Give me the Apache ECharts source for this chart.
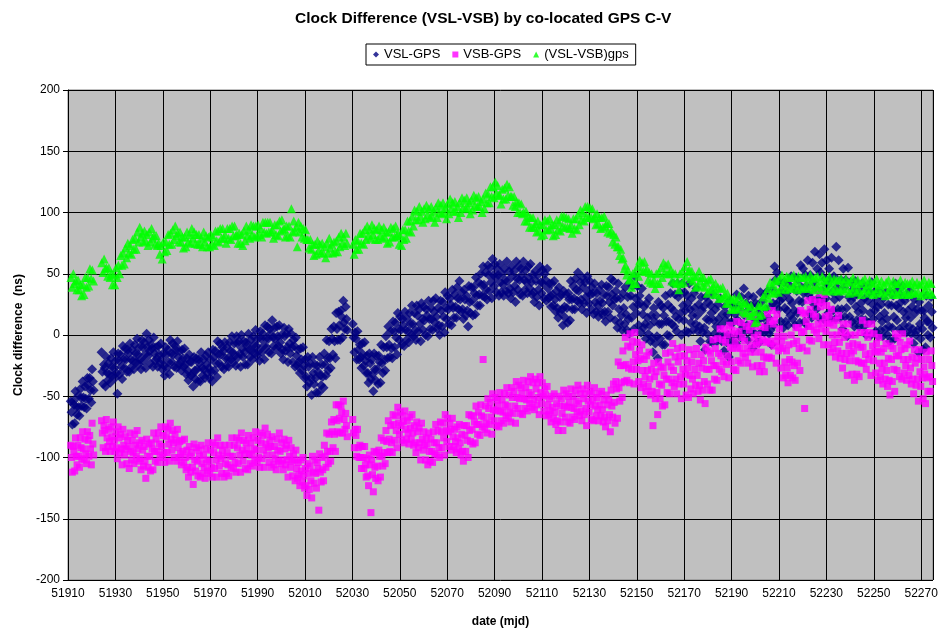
<!DOCTYPE html>
<html>
<head>
<meta charset="utf-8">
<title>Clock Difference (VSL-VSB) by co-located GPS C-V</title>
<script src="https://cdn.jsdelivr.net/npm/echarts@6/dist/echarts.min.js"></script>
<style>
  html, body { margin: 0; padding: 0; background: #fff; }
  #container { width: 943px; height: 634px; }
</style>
</head>
<body>
<div id="container"></div>
<script>
// MJD days that carry data (gaps around 51921-51923 and 52028-52029)
var dayRuns = [[51911, 51920], [51924, 52027], [52030, 52274]];

// VSL-GPS, three readings per day (ns)
var vslGps = [
  // 51911
  -54,-63,-73, -54,-57,-72, -46,-59,-65, -50,-59,-66, -44,-51,-58, -38,-51,-59, -42,-52,-60, -35,-41,-52, -35,-45,-55, -28,-38,-45,
  // 51924
  -14,-30,-40, -24,-27,-42, -18,-31,-37, -23,-32,-39, -19,-26,-33, -14,-27,-35, -21,-31,-48, -15,-21,-32, -16,-26,-36, -9,-20,-27,
  -11,-20,-30, -12,-15,-30, -7,-20,-26, -12,-21,-28, -8,-15,-22, -3,-16,-24, -10,-20,-28, -4,-10,-21, -6,-16,-27, 1,-10,-17,
  -4,-13,-23, -8,-11,-26, -2,-15,-21, -10,-19,-26, -9,-16,-23, -7,-20,-28, -15,-25,-33, -10,-16,-27, -12,-22,-32, -4,-15,-22,
  -7,-16,-26, -9,-12,-27, -5,-18,-24, -13,-22,-29, -12,-19,-26, -11,-24,-32, -19,-29,-37, -16,-22,-33, -22,-32,-42, -18,-29,-36,
  -19,-28,-38, -20,-23,-38, -14,-27,-33, -20,-28,-35, -17,-24,-31, -14,-27,-35, -20,-30,-38, -12,-18,-29, -13,-23,-34, -5,-16,-23,
  -7,-16,-26, -10,-13,-28, -6,-19,-25, -10,-19,-26, -6,-13,-20, -1,-14,-22, -7,-17,-25, -1,-7,-18, -5,-15,-26, 0,-11,-18,
  -5,-14,-24, -6,-9,-24, 1,-12,-18, -4,-13,-20, -1,-8,-15, 4,-9,-17, -3,-13,-21, 3,-3,-14, 1,-9,-20, 8,-3,-10,
  7,-3,-14, 5,1,-15, 12,-2,-9, 6,-3,-11, 7,-1,-9, 8,-6,-15, 0,-12,-20, 6,-1,-13, 1,-10,-22, 5,-7,-15,
  1,-10,-22, -4,-9,-26, -2,-17,-25, -12,-22,-31, -11,-20,-29, -10,-25,-35, -20,-34,-42, -18,-26,-39, -23,-35,-49, -18,-31,-40,
  -24,-35,-47, -25,-30,-47, -18,-33,-41, -24,-34,-43, -15,-24,-33, -4,-19,-29, -5,-19,-27, 5,-3,-16, 7,-5,-19, 18,5,-4,
  19,8,-4, 20,15,-2, 28,10,5, 23,13,4,
  // 52030
  9,-2,-14, 2,-3,-20, 3,-12,-20, -8,-18,-27, -7,-16,-25, -6,-21,-31, -17,-31,-39, -15,-23,-36, -20,-32,-46, -15,-28,-37,
  -17,-28,-40, -17,-22,-39, -8,-23,-31, -10,-20,-29, -1,-10,-19, 7,-8,-18, 3,-11,-19, 11,3,-10, 10,-2,-16, 18,5,-4,
  15,4,-8, 13,8,-9, 19,4,-4, 13,3,-6, 18,9,0, 24,9,-1, 18,4,-4, 24,16,3, 21,9,-5, 26,13,4,
  23,12,0, 21,16,-1, 28,13,5, 22,13,4, 28,19,10, 30,15,5, 22,8,0, 28,20,7, 27,15,2, 35,22,13,
  32,21,9, 30,25,8, 37,22,14, 33,23,14, 39,30,21, 44,29,19, 35,21,13, 37,29,16, 32,20,7, 40,27,18,
  39,28,16, 39,34,17, 47,32,24, 43,33,24, 50,41,32, 56,41,31, 51,37,29, 57,49,36, 55,43,30, 62,49,40,
  58,47,35, 54,49,32, 58,43,35, 50,41,32, 54,45,36, 60,44,34, 52,38,30, 56,48,35, 52,40,27, 60,46,37,
  56,45,33, 54,49,32, 60,45,37, 53,43,34, 56,47,38, 58,43,33, 49,35,27, 52,44,31, 49,37,24, 56,43,34,
  53,42,30, 50,45,28, 54,38,30, 42,32,23, 42,33,24, 44,29,19, 36,22,14, 39,31,18, 33,21,8, 36,23,14,
  33,22,10, 34,29,12, 44,29,21, 40,30,21, 46,37,28, 51,36,26, 43,29,21, 47,39,26, 43,31,18, 48,35,26,
  44,33,21, 39,34,17, 42,27,19, 34,24,15, 37,28,19, 41,26,16, 33,19,11, 40,32,19, 39,27,14, 46,33,24,
  // 52140
  44,29,12, 36,30,6, 42,21,10, 30,16,4, 34,22,9, 39,17,4, 31,13,1, 43,32,14, 40,23,5, 48,30,18,
  40,25,8, 32,26,2, 38,17,6, 23,9,-3, 26,14,1, 30,8,-5, 16,-2,-14, 22,11,-7, 16,-1,-19, 27,9,-3,
  24,9,-8, 22,16,-8, 32,11,0, 25,11,-1, 34,22,9, 42,20,7, 33,15,3, 42,31,13, 35,18,0, 42,24,12,
  35,20,3, 32,26,2, 42,21,10, 30,16,4, 34,22,9, 38,16,3, 25,7,-5, 31,20,2, 23,6,-12, 31,13,1,
  27,12,-5, 24,18,-6, 33,12,1, 21,7,-5, 25,13,0, 30,8,-5, 17,-1,-13, 23,12,-6, 17,0,-18, 28,10,-2,
  25,10,-7, 23,17,-7, 33,12,1, 24,10,-2, 31,19,6, 38,16,3, 26,8,-4, 32,21,3, 24,7,-11, 31,13,1,
  26,11,-6, 24,18,-6, 35,14,3, 28,14,2, 33,21,8, 36,14,1, 22,4,-8, 37,26,8, 56,45,25, 51,33,21,
  43,28,11, 36,30,6, 43,22,11, 34,20,8, 41,29,16, 48,26,13, 38,20,8, 47,36,18, 45,28,10, 57,39,27,
  54,34,11, 49,40,8, 61,33,18, 49,30,14, 59,43,25, 68,38,21, 54,30,14, 66,51,27, 59,36,13, 70,46,30,
  61,41,18, 54,45,13, 63,35,20, 48,29,13, 72,39,21, 61,31,14, 45,21,5, 54,39,15, 45,22,-1, 55,31,15,
  43,28,11, 37,31,7, 44,23,12, 33,19,7, 38,26,13, 42,20,7, 30,12,0, 39,28,10, 35,18,0, 43,25,13,
  35,20,3, 29,23,-1, 36,15,4, 25,11,-1, 30,18,5, 35,13,0, 25,7,-5, 35,24,6, 32,15,-3, 42,24,12,
  37,22,5, 33,27,3, 40,19,8, 28,14,2, 32,20,7, 36,14,1, 23,5,-7, 29,18,0, 21,4,-14, 27,9,-3,
  20,5,-12, 20,14,-10, 32,11,0, 24,10,-2, 31,19,6
];

// VSB-GPS, three readings per day (ns)
var vsbGps = [
  // 51911
  -90,-100,-112, -91,-95,-111, -84,-99,-106, -90,-99,-108, -84,-92,-101, -79,-93,-102, -85,-97,-105, -79,-86,-99, -82,-93,-106, -72,-89,-98,
  // 51924
  -70,-80,-92, -74,-78,-95, -69,-84,-91, -77,-87,-95, -75,-83,-91, -71,-86,-95, -79,-92,-101, -75,-84,-96, -81,-93,-106, -77,-90,-98,
  -83,-93,-105, -86,-91,-109, -80,-95,-102, -86,-96,-105, -81,-90,-99, -78,-93,-103, -88,-101,-110, -86,-94,-107, -91,-103,-117, -85,-99,-108,
  -89,-99,-111, -88,-93,-110, -80,-95,-103, -85,-95,-104, -80,-89,-98, -75,-91,-100, -82,-96,-104, -75,-83,-96, -77,-89,-103, -72,-85,-94,
  -78,-88,-100, -81,-86,-103, -77,-92,-100, -87,-97,-106, -86,-95,-104, -85,-100,-110, -94,-108,-116, -91,-99,-112, -96,-108,-122, -89,-102,-111,
  -92,-103,-115, -94,-99,-116, -90,-105,-113, -98,-108,-117, -93,-102,-111, -88,-103,-113, -94,-108,-116, -88,-96,-109, -90,-102,-116, -84,-98,-107,
  -90,-101,-113, -94,-99,-116, -90,-105,-113, -96,-106,-115, -90,-99,-108, -84,-99,-109, -90,-104,-112, -84,-92,-105, -86,-98,-112, -80,-94,-103,
  -86,-97,-109, -88,-93,-110, -82,-97,-105, -88,-98,-107, -84,-93,-102, -79,-94,-104, -86,-100,-108, -80,-88,-101, -82,-94,-108, -76,-89,-98,
  -81,-92,-104, -86,-91,-108, -83,-98,-106, -91,-101,-110, -85,-94,-103, -80,-95,-105, -88,-102,-110, -85,-93,-106, -90,-102,-116, -86,-99,-108,
  -92,-103,-115, -97,-102,-119, -94,-109,-117, -104,-114,-123, -102,-111,-120, -100,-115,-125, -109,-123,-131, -105,-113,-126, -107,-119,-133, -99,-112,-121,
  -102,-113,-125, -104,-109,-143, -97,-112,-120, -100,-110,-119, -90,-99,-108, -80,-95,-105, -81,-95,-103, -71,-79,-92, -69,-81,-95, -57,-70,-79,
  -57,-68,-80, -58,-63,-80, -54,-69,-77, -64,-74,-83,
  // 52030
  -69,-80,-92, -77,-82,-99, -77,-92,-100, -90,-100,-109, -91,-100,-109, -91,-106,-116, -101,-115,-123, -98,-106,-145, -102,-114,-128, -95,-108,-117,
  -96,-107,-119, -94,-99,-116, -84,-99,-107, -86,-96,-105, -78,-87,-96, -70,-85,-95, -74,-88,-96, -65,-73,-86, -66,-78,-92, -59,-72,-81,
  -63,-74,-86, -66,-71,-88, -62,-77,-85, -70,-80,-89, -67,-76,-85, -65,-80,-90, -74,-88,-96, -71,-79,-92, -76,-88,-102, -72,-85,-94,
  -79,-90,-102, -84,-89,-106, -80,-95,-103, -85,-95,-104, -79,-88,-97, -73,-88,-98, -78,-92,-100, -71,-79,-92, -72,-84,-98, -65,-78,-87,
  -68,-79,-91, -72,-77,-94, -68,-83,-91, -77,-87,-96, -75,-84,-93, -73,-88,-98, -81,-95,-103, -74,-82,-95, -74,-86,-100, -65,-78,-87,
  -66,-77,-89, -66,-71,-88, -58,-73,-81, -63,-73,-82, -57,-66,-75, -20,-67,-77, -58,-72,-80, -52,-60,-73, -55,-67,-81, -48,-61,-70,
  -51,-62,-74, -53,-58,-75, -47,-62,-70, -53,-63,-72, -48,-57,-66, -43,-58,-68, -49,-63,-71, -43,-51,-64, -46,-58,-72, -38,-51,-60,
  -41,-52,-64, -43,-48,-65, -37,-52,-60, -43,-53,-62, -38,-47,-56, -34,-49,-59, -39,-53,-61, -36,-44,-57, -39,-51,-65, -34,-47,-56,
  -39,-50,-62, -44,-49,-66, -42,-57,-65, -52,-62,-71, -50,-59,-68, -48,-63,-73, -56,-70,-78, -50,-58,-71, -52,-64,-78, -45,-58,-67,
  -48,-59,-71, -50,-55,-72, -44,-59,-67, -50,-60,-69, -45,-54,-63, -41,-56,-66, -48,-62,-70, -44,-52,-65, -48,-60,-74, -41,-54,-63,
  -46,-57,-69, -48,-53,-70, -43,-58,-66, -51,-61,-70, -48,-57,-66, -46,-61,-71, -53,-67,-75, -49,-57,-70, -53,-65,-79, -45,-58,-67,
  // 52140
  -40,-55,-72, -38,-44,-68, -22,-43,-54, -25,-39,-51, -13,-25,-38, -2,-24,-37, -9,-27,-39, 1,-10,-28, -5,-22,-40, 2,-16,-28,
  -6,-21,-38, -13,-19,-43, -8,-29,-40, -20,-34,-46, -17,-29,-42, -14,-36,-49, -28,-46,-74, -23,-34,-52, -30,-47,-65, -22,-40,-52,
  -26,-41,-58, -27,-33,-57, -15,-36,-47, -22,-36,-48, -14,-26,-39, -7,-29,-42, -18,-36,-48, -11,-22,-40, -17,-34,-52, -10,-28,-40,
  -17,-32,-49, -21,-27,-51, -12,-33,-44, -22,-36,-48, -16,-28,-41, -11,-33,-46, -23,-41,-53, -16,-27,-45, -21,-38,-56, -10,-28,-40,
  -13,-28,-45, -15,-21,-45, -4,-25,-36, -11,-25,-37, -3,-15,-28, 5,-17,-30, -4,-22,-34, 5,-6,-24, 0,-17,-35, 8,-10,-22,
  4,-11,-28, 1,-5,-29, 11,-10,-21, 3,-11,-23, 10,-2,-15, 17,-5,-18, 7,-11,-23, 15,4,-14, 9,-8,-26, 16,-2,-14,
  7,-8,-25, 0,-6,-30, 7,-14,-25, -4,-18,-30, 6,-6,-19, 17,-5,-18, 11,-7,-19, 20,9,-9, 12,-5,-23, 17,-1,-13,
  5,-10,-27, -5,-11,-35, -1,-22,-33, -13,-27,-39, -8,-20,-33, 0,-22,-35, -7,-25,-37, 6,-5,-23, 6,-11,-29, 20,2,-10,
  18,3,-60, 17,11,-13, 28,7,-4, 21,7,-5, 29,17,4, 37,15,2, 27,9,-3, 34,23,5, 27,10,-8, 33,15,3,
  24,9,-8, 16,10,-14, 21,0,-11, 8,-6,-18, 12,0,-13, 16,-6,-19, 3,-15,-27, 9,-2,-20, 2,-15,-33, 9,-9,-21,
  0,-15,-32, -7,-13,-37, 0,-21,-32, -8,-22,-34, 2,-10,-23, 12,-10,-23, 2,-16,-28, 9,-2,-20, 2,-15,-33, 9,-9,-21,
  1,-14,-31, -7,-13,-37, -2,-23,-34, -14,-28,-40, -11,-23,-36, -7,-29,-42, -19,-37,-49, -9,-20,-38, -11,-28,-46, 1,-17,-29,
  -2,-17,-34, -6,-12,-36, 1,-20,-31, -11,-25,-37, -8,-20,-33, -5,-27,-40, -18,-36,-48, -12,-23,-41, -19,-36,-54, -12,-30,-42,
  -20,-35,-52, -26,-32,-56, -14,-35,-46, -20,-34,-46, -13,-25,-38
];

// (VSL-VSB)gps, two readings per day (ns)
var vslVsb = [
  // 51911
  47,39, 50,42, 44,37, 45,37, 41,32, 41,33, 47,39, 47,40, 54,46, 53,44,
  // 51924
  59,51, 62,54, 55,48, 55,47, 50,41, 49,41, 55,47, 57,50, 65,57, 67,58,
  71,63, 75,67, 73,66, 78,70, 79,70, 84,76, 88,80, 83,76, 85,77, 82,73,
  84,76, 87,79, 81,74, 81,73, 75,66, 73,62, 76,68, 76,69, 82,74, 83,74,
  86,78, 89,81, 83,76, 84,76, 80,71, 80,72, 84,76, 82,75, 87,79, 84,75,
  82,74, 82,74, 79,72, 84,76, 81,72, 80,72, 82,74, 80,73, 85,77, 85,76,
  87,79, 87,79, 82,75, 87,79, 87,78, 89,81, 89,81, 82,75, 83,75, 82,73,
  85,77, 89,81, 86,79, 90,82, 89,80, 89,81, 90,82, 87,80, 92,84, 92,83,
  92,84, 92,84, 86,79, 90,82, 90,81, 93,85, 94,86, 87,80, 89,81, 89,80,
  103,84, 93,85, 88,72, 92,84, 89,80, 87,79, 86,78, 78,71, 78,70, 74,65,
  74,66, 77,69, 74,67, 75,67, 72,63, 75,67, 79,71, 74,67, 76,68, 77,68,
  80,72, 83,75, 80,73, 83,75,
  // 52030
  74,66, 78,70, 77,70, 83,75, 83,74, 86,78, 89,81, 86,79, 90,82, 87,78,
  86,78, 89,81, 86,79, 88,80, 84,75, 84,76, 88,80, 87,80, 89,81, 83,74,
  81,73, 86,78, 86,79, 93,85, 93,84, 97,89, 102,94, 101,94, 105,97, 101,92,
  103,95, 106,98, 103,96, 105,97, 101,92, 104,96, 108,100, 106,99, 108,100, 104,95,
  107,99, 111,103, 108,101, 109,101, 105,96, 108,100, 112,104, 110,103, 112,104, 108,99,
  110,102, 114,106, 112,105, 113,105, 109,100, 111,103, 116,108, 115,108, 121,113, 121,112,
  125,116, 122,114, 114,107, 119,111, 120,111, 123,114, 121,113, 113,106, 113,105, 109,100,
  108,100, 107,99, 100,93, 101,93, 97,88, 96,88, 96,88, 91,84, 93,85, 90,81,
  90,82, 94,86, 93,86, 95,87, 90,81, 90,82, 94,86, 92,85, 97,89, 97,88,
  96,88, 95,87, 90,83, 95,87, 95,86, 98,90, 102,94, 100,93, 105,97, 105,96,
  104,96, 103,95, 97,90, 99,91, 96,87, 96,88, 97,89, 91,84, 91,83, 85,76,
  // 52140
  82,74, 80,72, 72,65, 70,62, 63,54, 57,49, 53,45, 46,39, 50,42, 51,42,
  56,48, 61,53, 59,52, 60,52, 54,45, 51,43, 50,42, 45,38, 50,42, 51,42,
  55,47, 59,51, 57,50, 58,50, 53,44, 51,43, 50,42, 44,37, 50,42, 52,43,
  56,48, 60,52, 53,46, 52,44, 48,39, 48,40, 52,44, 47,40, 47,39, 43,34,
  45,37, 46,38, 40,33, 42,34, 39,30, 38,30, 39,31, 33,26, 34,26, 30,21,
  29,21, 30,22, 28,21, 32,24, 28,19, 26,18, 26,18, 23,16, 24,16, 19,10,
  19,11, 24,16, 24,17, 31,23, 33,24, 38,30, 43,35, 41,34, 45,37, 44,35,
  46,38, 49,41, 44,37, 48,40, 47,38, 47,39, 49,41, 44,37, 48,40, 47,38,
  47,39, 48,40, 45,38, 49,41, 46,37, 47,39, 48,40, 44,37, 48,40, 45,36,
  45,37, 48,40, 43,36, 46,38, 45,36, 45,37, 46,38, 43,36, 46,38, 43,34,
  44,36, 47,39, 42,35, 45,37, 42,33, 44,36, 46,38, 41,34, 45,37, 42,33,
  43,35, 46,38, 41,34, 44,36, 41,32, 43,35, 45,37, 40,33, 44,36, 42,33,
  42,34, 45,37, 40,33, 43,35, 42,33, 42,34, 44,36, 41,34, 43,35, 41,32,
  42,34, 45,37, 40,33, 43,35, 42,33
];

var seriesNames = ['VSL-GPS', 'VSB-GPS', '(VSL-VSB)gps'];
var xMin = 51910, xMax = 52275, xStep = 20;
var yMin = -200, yMax = 200, yStep = 50;

var days = [];
dayRuns.forEach(function (r) {
  for (var d = r[0]; d <= r[1]; d++) days.push(d);
});

// spread the readings of one day over the day
function toPoints(vals, perDay) {
  var pts = [];
  for (var i = 0; i < vals.length; i++) {
    var d = days[Math.floor(i / perDay)];
    pts.push([d + ((i % perDay) + 0.5) / perDay, vals[i]]);
  }
  return pts;
}

var font = "'Liberation Sans', Arial, sans-serif";
var chart = echarts.init(document.getElementById('container'));
chart.setOption({
  animation: false,
  backgroundColor: '#ffffff',
  title: {
    text: 'Clock Difference (VSL-VSB) by co-located GPS C-V',
    left: 290, top: 6,
    textStyle: { fontFamily: font, fontSize: 15.5, fontWeight: 'bold', color: '#000' }
  },
  legend: {
    data: seriesNames,
    left: 366, top: 44,
    padding: [4, 7],
    itemGap: 12,
    itemWidth: 6, itemHeight: 6,
    borderColor: '#000', borderWidth: 1,
    textStyle: { fontFamily: font, fontSize: 13, color: '#000' }
  },
  grid: {
    left: 68, right: 10, top: 90, bottom: 54,
    show: true, backgroundColor: '#c0c0c0', borderColor: '#808080', borderWidth: 1
  },
  xAxis: {
    type: 'value', min: xMin, max: xMax, interval: xStep,
    name: 'date (mjd)', nameLocation: 'middle', nameGap: 36,
    nameTextStyle: { fontFamily: font, fontSize: 12, fontWeight: 'bold', color: '#000' },
    axisLine: { lineStyle: { color: '#000' } },
    axisTick: { length: 5, lineStyle: { color: '#000' } },
    axisLabel: {
      showMaxLabel: false, margin: 8, fontFamily: font, fontSize: 12, color: '#000',
      formatter: function (v) { return String(v); }
    },
    splitLine: { show: true, lineStyle: { color: '#000', width: 1 } }
  },
  yAxis: {
    type: 'value', min: yMin, max: yMax, interval: yStep,
    name: 'Clock difference  (ns)', nameLocation: 'middle', nameGap: 43,
    nameTextStyle: { fontFamily: font, fontSize: 12, fontWeight: 'bold', color: '#000' },
    axisLine: { show: true, lineStyle: { color: '#000' } },
    axisTick: { show: true, length: 5, lineStyle: { color: '#000' } },
    axisLabel: { margin: 8, fontFamily: font, fontSize: 12, color: '#000' },
    splitLine: { show: true, lineStyle: { color: '#000', width: 1 } }
  },
  series: [
    {
      name: seriesNames[0], type: 'scatter', symbol: 'diamond', symbolSize: 10,
      itemStyle: { color: '#000080' }, data: toPoints(vslGps, 3)
    },
    {
      name: seriesNames[1], type: 'scatter', symbol: 'rect', symbolSize: 7,
      itemStyle: { color: '#ff00ff' }, data: toPoints(vsbGps, 3)
    },
    {
      name: seriesNames[2], type: 'scatter', symbol: 'triangle', symbolSize: 9,
      itemStyle: { color: '#00ff00' }, data: toPoints(vslVsb, 2)
    }
  ]
});
</script>
</body>
</html>
